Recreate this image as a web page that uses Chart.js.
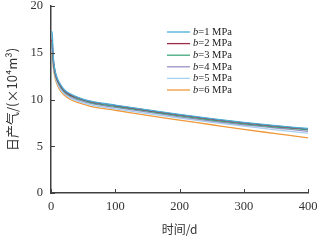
<!DOCTYPE html>
<html>
<head>
<meta charset="utf-8">
<script src="https://cdn.jsdelivr.net/npm/chart.js@4"></script>
<style>
  html, body { margin: 0; padding: 0; background: #fff; }
  #wrap { width: 326px; height: 241px; }
</style>
</head>
<body>
<div id="wrap"><canvas id="gasChart"></canvas></div>
<script>
// days
const days = [1, 2, 3, 4, 6, 9, 13, 20, 30, 45, 60, 80, 100, 150, 200, 250, 300, 350, 400];
const seriesNames = ['1', '2', '3', '4', '5', '6'];
const b1 = [17.3, 17.0, 15.4, 14.2, 13.2, 12.4, 11.8, 11.1, 10.6, 10.15, 9.85, 9.6, 9.4, 8.9, 8.4, 7.95, 7.55, 7.2, 6.9];
const b2 = [16.4, 16.1, 15.0, 14.0, 13.1, 12.3, 11.7, 11.0, 10.5, 10.1, 9.8, 9.55, 9.35, 8.85, 8.35, 7.9, 7.5, 7.15, 6.85];
const b3 = [16.0, 15.7, 14.7, 13.8, 12.9, 12.2, 11.6, 10.9, 10.4, 10.0, 9.7, 9.45, 9.25, 8.75, 8.25, 7.8, 7.4, 7.05, 6.75];
const b4 = [15.7, 15.4, 14.4, 13.6, 12.8, 12.1, 11.5, 10.8, 10.3, 9.9, 9.6, 9.35, 9.15, 8.65, 8.15, 7.7, 7.3, 6.95, 6.6];
const b5 = [15.4, 15.1, 14.2, 13.4, 12.6, 11.9, 11.3, 10.65, 10.15, 9.75, 9.45, 9.2, 9.0, 8.5, 8.0, 7.55, 7.15, 6.75, 6.4];
const b6 = [15.1, 14.8, 13.9, 13.2, 12.4, 11.7, 11.1, 10.5, 10.0, 9.6, 9.3, 9.05, 8.85, 8.3, 7.8, 7.3, 6.8, 6.35, 5.9];
const xTicks = [0, 100, 200, 300, 400];
const yTicks = [0, 5, 10, 15, 20];

const colors = ['#4aaed6', '#9b2d4b', '#3fa87c', '#9a90c8', '#a6d0ee', '#f0993a'];
const allSeries = [b1, b2, b3, b4, b5, b6];

const datasets = allSeries.map(function(vals, i) {
    return {
        label: 'b=' + seriesNames[i] + ' MPa',
        data: vals.map(function(v, j) { return { x: days[j], y: v }; }),
        borderColor: colors[i],
        borderWidth: 1.3,
        pointRadius: 0,
        cubicInterpolationMode: 'monotone',
        fill: false
    };
});

// inward tick marks
const innerTicks = {
    id: 'innerTicks',
    afterDraw: function(chart) {
        const ctx = chart.ctx;
        const xs = chart.scales.x, ys = chart.scales.y;
        ctx.save();
        ctx.strokeStyle = '#404040';
        ctx.lineWidth = 1;
        xTicks.forEach(function(t) {
            const px = Math.round(xs.getPixelForValue(t)) + 0.5;
            ctx.beginPath();
            ctx.moveTo(px, ys.bottom);
            ctx.lineTo(px, ys.bottom - 4);
            ctx.stroke();
        });
        yTicks.forEach(function(t) {
            const py = Math.round(ys.getPixelForValue(t)) + 0.5;
            ctx.beginPath();
            ctx.moveTo(xs.left, py);
            ctx.lineTo(xs.left + 4, py);
            ctx.stroke();
        });
        ctx.restore();
    }
};

// legend with italic b
const sideLegend = {
    id: 'sideLegend',
    afterDraw: function(chart) {
        const ctx = chart.ctx;
        ctx.save();
        ctx.textBaseline = 'middle';
        chart.data.datasets.forEach(function(ds, i) {
            const y = 32 + i * 11.6;
            ctx.strokeStyle = ds.borderColor;
            ctx.lineWidth = 1.3;
            ctx.beginPath();
            ctx.moveTo(167, y);
            ctx.lineTo(190, y);
            ctx.stroke();
            ctx.fillStyle = '#222';
            ctx.font = 'italic 10.5px "Liberation Serif"';
            ctx.fillText('b', 193, y);
            const w = ctx.measureText('b').width;
            ctx.font = '10.5px "Liberation Serif"';
            ctx.fillText('=' + seriesNames[i] + ' MPa', 193 + w, y);
        });
        ctx.restore();
    }
};

new Chart(document.getElementById('gasChart').getContext('2d'), {
    type: 'line',
    data: { datasets: datasets },
    plugins: [innerTicks, sideLegend],
    options: {
        responsive: true,
        maintainAspectRatio: false,
        animation: false,
        layout: { padding: { top: 0, right: 18, left: 0, bottom: 0 } },
        plugins: { legend: { display: false }, tooltip: { enabled: false } },
        scales: {
            x: {
                type: 'linear',
                min: 0, max: 400,
                afterFit: function(s) { s.height = 48; },
                afterBuildTicks: function(s) { s.ticks = xTicks.map(function(v) { return { value: v }; }); },
                grid: { display: false, drawTicks: false },
                border: { display: true, color: '#404040', width: 1.5 },
                ticks: { color: '#333', padding: 6, font: { family: 'Liberation Serif', size: 12.5 } },
                title: {
                    display: true, text: '时间/d', color: '#333', padding: { top: 3 },
                    font: { family: 'Noto Sans CJK SC', size: 12 }
                }
            },
            y: {
                min: 0, max: 20,
                afterFit: function(s) { s.width = 51; s.paddingTop = 6; s.paddingBottom = 0; },
                afterBuildTicks: function(s) { s.ticks = yTicks.map(function(v) { return { value: v }; }); },
                grid: { display: false, drawTicks: false },
                border: { display: true, color: '#404040', width: 1.5 },
                ticks: { color: '#333', padding: 8, font: { family: 'Liberation Serif', size: 12.5 } },
                title: {
                    display: true, text: '日产气/(×10⁴m³)', color: '#333', padding: { bottom: 0 },
                    font: { family: 'Noto Sans CJK SC', size: 13 }
                }
            }
        }
    }
});
</script>
</body>
</html>
